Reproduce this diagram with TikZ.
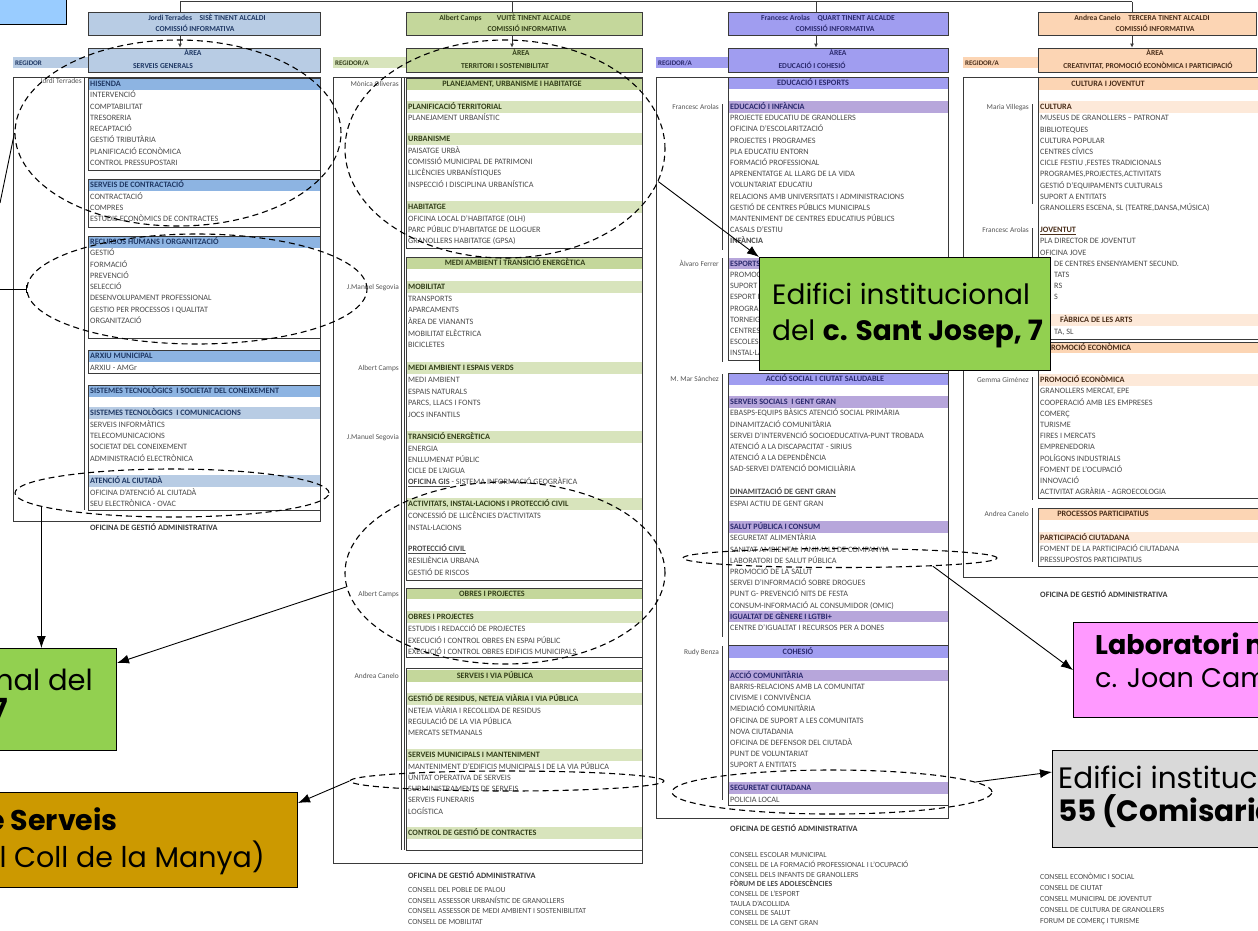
\documentclass[tikz,border=0pt]{standalone}
\usepackage{fontspec}
\setmainfont{Carlito}
\newfontfamily\popf{Poppins}
\usetikzlibrary{arrows.meta,shapes.geometric}
\newcounter{tn}
\definecolor{c1h}{HTML}{B8CCE4}
\definecolor{c1s}{HTML}{8DB4E2}
\definecolor{c1l}{HTML}{B8CCE4}
\definecolor{c1t}{HTML}{1F3864}
\definecolor{c2h}{HTML}{C4D79B}
\definecolor{c2l}{HTML}{D8E4BC}
\definecolor{c2t}{HTML}{333F1A}
\definecolor{c3h}{HTML}{A09DF0}
\definecolor{c3l}{HTML}{B7A6DB}
\definecolor{c3t}{HTML}{2B2A6E}
\definecolor{c4h}{HTML}{FCD5B4}
\definecolor{c4l}{HTML}{FDE9D9}
\definecolor{c4t}{HTML}{4A2E1A}
\definecolor{itemc}{HTML}{4A4A4A}
\definecolor{namec}{HTML}{555555}
\definecolor{boxc}{HTML}{3A3A3A}
\definecolor{bluebox}{HTML}{99CCFF}
\definecolor{greenc}{HTML}{92D050}
\definecolor{brownc}{HTML}{CC9900}
\definecolor{pinkc}{HTML}{FF99FF}
\definecolor{greyc}{HTML}{D9D9D9}
\newcommand\xitm{\fontsize{8.2}{9}\selectfont}
\newcommand\xcon{\fontsize{7.8}{9}\selectfont}
\newcommand\xbld{\fontsize{8.2}{9}\selectfont\bfseries}
\newcommand\xnam{\fontsize{7.4}{9}\selectfont}
\newcommand\xhdr{\fontsize{7.6}{9}\selectfont\bfseries}
\newcommand\xstrip{\fontsize{7}{8}\selectfont\bfseries}
\newcommand\xcall{\popf\fontsize{27}{33}\selectfont}
\newcommand\It[3]{\stepcounter{tn}\node[itm] (n\arabic{tn}) at (#1,{#2+2.7}) {#3};}
\newcommand\Bt[4]{\stepcounter{tn}\node[bld,text=#1] (n\arabic{tn}) at (#2,{#3+2.7}) {#4};}
\newcommand\Bc[4]{\stepcounter{tn}\node[bldc,text=#1] (n\arabic{tn}) at (#2,{#3+2.7}) {#4};}
\newcommand\Nm[3]{\stepcounter{tn}\node[nam] (n\arabic{tn}) at (#1,{#2+2.5}) {#3};}
\newcommand\Items[4]{\foreach \ti [count=\k from 0] in {#4}{\stepcounter{tn}\node[itm] (n\arabic{tn}) at (#1,{#2+#3*\k+2.7}) {\ti};}}
\newcommand\CItems[4]{\foreach \ti [count=\k from 0] in {#4}{\stepcounter{tn}\node[itm,font=\xcon] (n\arabic{tn}) at (#1,{#2+#3*\k+2.7}) {\ti};}}
\newcommand\Rf[4]{\fill[#1] (#2,{#4-5.8}) rectangle (#3,{#4+5.8});}
\begin{document}
\begin{tikzpicture}[x=1pt,y=-1pt,
  itm/.style={anchor=base west,inner sep=0pt,font=\xitm,text=itemc},
  bld/.style={anchor=base west,inner sep=0pt,font=\xbld},
  bldc/.style={anchor=base,inner sep=0pt,font=\xbld},
  nam/.style={anchor=base east,inner sep=0pt,font=\xnam,text=namec},
  htx/.style={anchor=base,inner sep=0pt,font=\xhdr},
  stp/.style={anchor=base west,inner sep=0pt,font=\xstrip},
  hbox/.style={draw=boxc,line width=0.8pt,inner sep=0pt},
  sbox/.style={draw=boxc,line width=0.9pt},
  outer/.style={draw=boxc,line width=0.7pt},
  thinl/.style={draw=boxc,line width=0.6pt},
  ell/.style={ellipse,draw=black,dash pattern=on 6pt off 4pt,line width=1.1pt,inner sep=0pt},
  con/.style={draw=black,line width=0.9pt,-{Latex[length=12pt,width=9pt]}},
  call/.style={draw=black,line width=1.2pt,inner sep=0pt},
  ctx/.style={inner sep=0pt,font=\xcall},
]
\useasboundingbox (0,0) rectangle (1258,930);
\fill[white] (0,0) rectangle (1258,930);

% ---------- top-left box and tree
\node[draw=black,line width=1.2pt,fill=bluebox,minimum width=80pt,minimum height=40pt,anchor=south east] (bb) at (67,25) {};
\node[hbox,fill=c1h,minimum width=232pt,minimum height=23pt] (h1) at (204,23.5) {};
\node[hbox,fill=c1h,minimum width=232pt,minimum height=24pt] (a1) at (204,60) {};
\node[hbox,fill=c2h,minimum width=236pt,minimum height=23pt] (h2) at (524,23.5) {};
\node[hbox,fill=c2h,minimum width=236pt,minimum height=24pt] (a2) at (524,60) {};
\node[hbox,fill=c3h,minimum width=220pt,minimum height=23pt] (h3) at (838,23.5) {};
\node[hbox,fill=c3h,minimum width=220pt,minimum height=24pt] (a3) at (838,60) {};
\node[hbox,fill=c4h,minimum width=218pt,minimum height=23pt] (h4) at (1147,23.5) {};
\node[hbox,fill=c4h,minimum width=218pt,minimum height=24pt] (a4) at (1147,60) {};
\coordinate (t1) at (180,1.5);
\coordinate (t2) at (512,1.5);
\coordinate (t3) at (816,1.5);
\coordinate (t4) at (1132,1.5);
\draw[boxc,line width=1.6pt] (t1) -- (t4);
\foreach \k in {1,...,4}{
  \draw[boxc,line width=1pt] (t\k) -- (t\k |- h\k.north);
  \draw[boxc,line width=0.8pt,-{Latex[length=4pt,width=4pt]}] (t\k |- h\k.south) -- (t\k |- a\k.north);
}
\node[htx,text=c1t] (h1a) at (207,20.5) {Jordi Terrades\quad SISÈ TINENT ALCALDI};
\node[htx,text=c1t] (h1b) at (195,31.5) {COMISSIÓ INFORMATIVA};
\node[htx,text=c1t] (a1a) at (193,55.5) {ÀREA};
\node[htx,text=c1t] (a1b) at (163,68.5) {SERVEIS GENERALS};
\node[htx,text=c2t] (h2a) at (505,20.5) {Albert Camps\qquad VUITÈ TINENT ALCALDE};
\node[htx,text=c2t] (h2b) at (527,31.5) {COMISSIÓ INFORMATIVA};
\node[htx,text=c2t] (a2a) at (521,55.5) {ÀREA};
\node[htx,text=c2t] (a2b) at (505,68.5) {TERRITORI I SOSTENIBILITAT};
\node[htx,text=c3t] (h3a) at (828,20.5) {Francesc Arolas\quad QUART TINENT ALCALDE};
\node[htx,text=c3t] (h3b) at (835,31.5) {COMISSIÓ INFORMATIVA};
\node[htx,text=c3t] (a3a) at (838,55.5) {ÀREA};
\node[htx,text=c3t] (a3b) at (812,68.5) {EDUCACIÓ I COHESIÓ};
\node[htx,text=c4t] (h4a) at (1142,20.5) {Andrea Canelo\quad TERCERA TINENT ALCALDI};
\node[htx,text=c4t] (h4b) at (1155,31.5) {COMISSIÓ INFORMATIVA};
\node[htx,text=c4t] (a4a) at (1155,55.5) {ÀREA};
\node[htx,text=c4t] (a4b) at (1148,68.5) {CREATIVITAT, PROMOCIÓ ECONÒMICA I PARTICIPACIÓ};

% ================= COLUMN 1
\fill[c1h] (13,57) rectangle (88,68);
\node[stp,text=c1t] (rg1) at (15,65) {REGIDOR};
\draw[outer] (13,77) rectangle (320,521);
\draw[thinl] (84,78) -- (84,510);
\Nm{82}{81}{Jordi Terrades}
\Rf{c1s}{88}{320}{84}
\draw[sbox] (88,78) rectangle (320,170);
\Bt{c1t}{90}{84}{HISENDA}
\Items{90}{95}{11.3}{INTERVENCIÓ,COMPTABILITAT,TRESORERIA,RECAPTACIÓ,GESTIÓ TRIBUTÀRIA,PLANIFICACIÓ ECONÒMICA,CONTROL PRESSUPOSTARI}
\Rf{c1s}{88}{320}{185}
\draw[sbox] (88,179) rectangle (320,227);
\Bt{c1t}{90}{185}{SERVEIS DE CONTRACTACIÓ}
\Items{90}{196.5}{11.3}{CONTRACTACIÓ,COMPRES,ESTUDIS ECONÒMICS DE CONTRACTES}
\Rf{c1s}{88}{320}{242}
\draw[sbox] (88,236) rectangle (320,338);
\Bt{c1t}{90}{242}{RECURSOS HUMANS I ORGANITZACIÓ}
\Items{90}{253}{11.3}{GESTIÓ,FORMACIÓ,PREVENCIÓ,SELECCIÓ,DESENVOLUPAMENT PROFESSIONAL,GESTIO PER PROCESSOS I QUALITAT,ORGANITZACIÓ}
\Rf{c1s}{88}{320}{356}
\draw[sbox] (88,350) rectangle (320,373);
\Bt{c1t}{90}{356}{ARXIU MUNICIPAL}
\It{90}{367.5}{ARXIU - AMGr}
\Rf{c1s}{88}{320}{391}
\Rf{c1l}{88}{320}{413}
\Rf{c1l}{88}{320}{481}
\draw[sbox] (88,385) rectangle (320,510);
\Bt{c1t}{90}{391}{SISTEMES TECNOLÒGICS\ \ I SOCIETAT DEL CONEIXEMENT}
\Bt{c1t}{90}{413}{SISTEMES TECNOLÒGICS\ \ I COMUNICACIONS}
\Items{90}{424.5}{11.3}{SERVEIS INFORMÀTICS,TELECOMUNICACIONS,SOCIETAT DEL CONEIXEMENT,ADMINISTRACIÓ ELECTRÒNICA}
\Bt{c1t}{90}{481}{ATENCIÓ AL CIUTADÀ}
\Items{90}{492.5}{11.3}{OFICINA D'ATENCIÓ AL CIUTADÀ,SEU ELECTRÒNICA - OVAC}
\Bt{boxc}{90}{528}{OFICINA DE GESTIÓ ADMINISTRATIVA}

% ================= COLUMN 2
\fill[c2l] (333,57) rectangle (406,68);
\node[stp,text=c2t] (rg2) at (335,65) {REGIDOR/A};
\draw[outer] (333,77) rectangle (642,863);
\draw[thinl] (401,78) -- (401,850);
\draw[thinl] (404,78) -- (404,850);
\Rf{c2h}{406}{642}{84}
\Rf{c2l}{406}{642}{107}
\Rf{c2l}{406}{642}{139}
\Rf{c2l}{406}{642}{207}
\draw[sbox] (406,78) rectangle (642,248);
\Bc{c2t}{512}{84}{PLANEJAMENT, URBANISME I HABITATGE}
\Nm{399}{84}{Mònica Oliveras}
\Bt{c2t}{408}{107}{PLANIFICACIÓ TERRITORIAL}
\It{408}{118}{PLANEJAMENT URBANÍSTIC}
\Bt{c2t}{408}{139}{URBANISME}
\Items{408}{150.5}{11.3}{PAISATGE URBÀ,COMISSIÓ MUNICIPAL DE PATRIMONI,LLICÈNCIES URBANÍSTIQUES,INSPECCIÓ I DISCIPLINA URBANÍSTICA}
\Bt{c2t}{408}{207}{HABITATGE}
\Items{408}{218.5}{11.3}{OFICINA LOCAL D'HABITATGE (OLH),PARC PÚBLIC D'HABITATGE DE LLOGUER,GRANOLLERS HABITATGE (GPSA)}
\Rf{c2h}{406}{642}{263}
\Rf{c2l}{406}{642}{287}
\Rf{c2l}{406}{642}{368}
\Rf{c2l}{406}{642}{437}
\Rf{c2l}{406}{642}{504}
\draw[sbox] (406,257) rectangle (642,580);
\Bc{c2t}{515}{263}{MEDI AMBIENT I TRANSICIÓ ENERGÈTICA}
\Nm{399}{287}{J.Manuel Segovia}
\Bt{c2t}{408}{287}{MOBILITAT}
\Items{408}{298.6}{11.6}{TRANSPORTS,APARCAMENTS,ÀREA DE VIANANTS,MOBILITAT ELÈCTRICA,BICICLETES}
\Nm{399}{368}{Albert Camps}
\Bt{c2t}{408}{368}{MEDI AMBIENT I ESPAIS VERDS}
\Items{408}{380}{11.5}{MEDI AMBIENT,ESPAIS NATURALS,{PARCS, LLACS I FONTS},JOCS INFANTILS}
\Nm{399}{437}{J.Manuel Segovia}
\Bt{c2t}{408}{437}{TRANSICIÓ ENERGÈTICA}
\Items{408}{448.5}{11.2}{ENERGIA,ENLLUMENAT PÚBLIC,CICLE DE L'AIGUA}
\It{408}{482}{{\bfseries\underline{OFICINA GIS}} - SISTEMA INFORMACIÓ GEOGRÀFICA}
\Bt{c2t}{408}{504}{ACTIVITATS, INSTAL·LACIONS I PROTECCIÓ CIVIL}
\Items{408}{516}{11.5}{CONCESSIÓ DE LLICÈNCIES D'ACTIVITATS,INSTAL·LACIONS}
\Bt{itemc}{408}{549}{\underline{PROTECCIÓ CIVIL}}
\Items{408}{561}{11.5}{RESILIÈNCIA URBANA,GESTIÓ DE RISCOS}
\Rf{c2h}{406}{642}{593.5}
\Rf{c2l}{406}{642}{617}
\draw[sbox] (406,588) rectangle (642,657);
\Bc{c2t}{492}{593.5}{OBRES I PROJECTES}
\Nm{399}{593.5}{Albert Camps}
\Bt{c2t}{408}{617}{OBRES I PROJECTES}
\Items{408}{629}{11.5}{ESTUDIS I REDACCIÓ DE PROJECTES,EXECUCIÓ I CONTROL OBRES EN ESPAI PÚBLIC,EXECUCIÓ I CONTROL OBRES EDIFICIS MUNICIPALS}
\Rf{c2h}{406}{642}{676}
\Rf{c2l}{406}{642}{699}
\Rf{c2l}{406}{642}{755}
\Rf{c2l}{406}{642}{833}
\draw[sbox] (406,668) rectangle (642,850);
\Bc{c2t}{495}{676}{SERVEIS I VIA PÚBLICA}
\Nm{399}{676}{Andrea Canelo}
\Bt{c2t}{408}{699}{GESTIÓ DE RESIDUS, NETEJA VIÀRIA I VIA PÚBLICA}
\Items{408}{710.5}{11}{NETEJA VIÀRIA I RECOLLIDA DE RESIDUS,REGULACIÓ DE LA VIA PÚBLICA,MERCATS SETMANALS}
\Bt{c2t}{408}{755}{SERVEIS MUNICIPALS I MANTENIMENT}
\Items{408}{766.5}{11.2}{MANTENIMENT D'EDIFICIS MUNICIPALS I DE LA VIA PÚBLICA,UNITAT OPERATIVA DE SERVEIS,SUBMINISTRAMENTS DE SERVEIS,SERVEIS FUNERARIS,LOGÍSTICA}
\Bt{c2t}{408}{833}{CONTROL DE GESTIÓ DE CONTRACTES}
\Bt{boxc}{408}{876}{OFICINA DE GESTIÓ ADMINISTRATIVA}
\CItems{408}{890}{10.5}{CONSELL DEL POBLE DE PALOU,CONSELL ASSESSOR URBANÍSTIC DE GRANOLLERS,CONSELL ASSESSOR DE MEDI AMBIENT I SOSTENIBILITAT,CONSELL DE MOBILITAT}

% ================= COLUMN 3
\fill[c3h] (656,57) rectangle (728,68);
\node[stp,text=c3t] (rg3) at (658,65) {REGIDOR/A};
\draw[outer] (656,77) rectangle (948,818);
\draw[thinl] (722,104) -- (722,250);
\draw[thinl] (722,258) -- (722,362);
\draw[thinl] (722,374) -- (722,637);
\draw[thinl] (722,646) -- (722,800);
\Rf{c3h}{728}{948}{83}
\Rf{c3l}{728}{948}{107}
\Rf{c3l}{728}{948}{263.5}
\draw[sbox] (728,77) rectangle (948,360);
\Bc{c3t}{813}{83}{EDUCACIÓ I ESPORTS}
\Nm{719}{107}{Francesc Arolas}
\Bt{c3t}{730}{107}{EDUCACIÓ I INFÀNCIA}
\Items{730}{118}{11.2}{PROJECTE EDUCATIU DE GRANOLLERS,OFICINA D'ESCOLARITZACIÓ,PROJECTES I PROGRAMES,PLA EDUCATIU ENTORN,FORMACIÓ PROFESSIONAL,APRENENTATGE AL LLARG DE LA VIDA,VOLUNTARIAT EDUCATIU,RELACIONS AMB UNIVERSITATS I ADMINISTRACIONS,GESTIÓ DE CENTRES PÚBLICS MUNICIPALS,MANTENIMENT DE CENTRES EDUCATIUS PÚBLICS,CASALS D'ESTIU}
\Bt{itemc}{730}{241.2}{INFÀNCIA}
\Nm{719}{263.5}{Àlvaro Ferrer}
\Bt{c3t}{730}{263.5}{ESPORTS}
\Items{730}{274.7}{11.2}{PROMOCIÓ ESPORTIVA,SUPORT A ENTITATS ESPORTIVES,ESPORT ESCOLAR,PROGRAMES ESPORTIUS,TORNEIGS,CENTRES ESPORTIUS,ESCOLES ESPORTIVES,INSTAL·LACIONS ESPORTIVES}
\Rf{c3h}{728}{948}{379}
\Rf{c3l}{728}{948}{402}
\Rf{c3l}{728}{948}{527}
\Rf{c3l}{728}{948}{616.6}
\Rf{c3h}{728}{948}{652}
\Rf{c3l}{728}{948}{675.5}
\Rf{c3l}{728}{948}{788}
\draw[sbox] (728,373) rectangle (948,805);
\draw[sbox] (728,645.5) -- (948,645.5);
\Bc{c3t}{825}{379}{ACCIÓ SOCIAL I CIUTAT SALUDABLE}
\Nm{719}{379}{M. Mar Sánchez}
\Bt{c3t}{730}{402}{SERVEIS SOCIALS\ \ I GENT GRAN}
\Items{730}{413.2}{11.2}{EBASPS-EQUIPS BÀSICS ATENCIÓ SOCIAL PRIMÀRIA,DINAMITZACIÓ COMUNITÀRIA,SERVEI D'INTERVENCIÓ SOCIOEDUCATIVA-PUNT TROBADA,ATENCIÓ A LA DISCAPACITAT - SIRIUS,ATENCIÓ A LA DEPENDÈNCIA,SAD-SERVEI D'ATENCIÓ DOMICILIÀRIA}
\Bt{itemc}{730}{492}{\underline{DINAMITZACIÓ DE GENT GRAN}}
\It{730}{503.5}{ESPAI ACTIU DE GENT GRAN}
\Bt{c3t}{730}{527}{SALUT PÚBLICA I CONSUM}
\Items{730}{538.2}{11.2}{SEGURETAT ALIMENTÀRIA,SANITAT AMBIENTAL I ANIMALS DE COMPANYIA,LABORATORI DE SALUT PÚBLICA,PROMOCIÓ DE LA SALUT,SERVEI D'INFORMACIÓ SOBRE DROGUES,PUNT G- PREVENCIÓ NITS DE FESTA,CONSUM-INFORMACIÓ AL CONSUMIDOR (OMIC)}
\Bt{c3t}{730}{616.6}{IGUALTAT DE GÈNERE I LGTBI+}
\It{730}{627.8}{CENTRE D'IGUALTAT I RECURSOS PER A DONES}
\Bc{c3t}{798}{652}{COHESIÓ}
\Nm{719}{652}{Rudy Benza}
\Bt{c3t}{730}{675.5}{ACCIÓ COMUNITÀRIA}
\Items{730}{686.7}{11.2}{BARRIS-RELACIONS AMB LA COMUNITAT,CIVISME I CONVIVÈNCIA,MEDIACIÓ COMUNITÀRIA,OFICINA DE SUPORT A LES COMUNITATS,NOVA CIUTADANIA,OFICINA DE DEFENSOR DEL CIUTADÀ,PUNT DE VOLUNTARIAT,SUPORT A ENTITATS}
\Bt{c3t}{730}{788}{SEGURETAT CIUTADANA}
\It{730}{799.5}{POLICIA LOCAL}
\Bt{boxc}{730}{829}{OFICINA DE GESTIÓ ADMINISTRATIVA}
\CItems{730}{855}{9.7}{CONSELL ESCOLAR MUNICIPAL,CONSELL DE LA FORMACIÓ PROFESSIONAL I L'OCUPACIÓ,CONSELL DELS INFANTS DE GRANOLLERS,{\bfseries FÒRUM DE LES ADOLESCÈNCIES},CONSELL DE L'ESPORT,TAULA D'ACOLLIDA,CONSELL DE SALUT,CONSELL DE LA GENT GRAN}

% ================= COLUMN 4
\fill[c4h] (963,57) rectangle (1038,68);
\node[stp,text=c4t] (rg4) at (965,65) {REGIDOR/A};
\draw[outer] (1262,77) -- (963,77) -- (963,577) -- (1262,577);
\draw[thinl] (1032,104) -- (1032,204);
\draw[thinl] (1032,228) -- (1032,336);
\draw[thinl] (1032,377) -- (1032,500);
\draw[thinl] (1032,508) -- (1032,562);
\Rf{c4h}{1038}{1262}{84}
\Rf{c4l}{1038}{1262}{107}
\Rf{c4l}{1038}{1262}{320}
\draw[sbox] (1262,77) -- (1038,77) -- (1038,339) -- (1262,339);
\Bc{c4t}{1108}{84}{CULTURA I JOVENTUT}
\Nm{1029}{107}{Maria Villegas}
\Bt{c4t}{1040}{107}{CULTURA}
\Items{1040}{118.2}{11.2}{MUSEUS DE GRANOLLERS -- PATRONAT,BIBLIOTEQUES,CULTURA POPULAR,CENTRES CÍVICS,{CICLE FESTIU ,FESTES TRADICIONALS},{PROGRAMES,PROJECTES,ACTIVITATS},GESTIÓ D'EQUIPAMENTS CULTURALS,SUPORT A ENTITATS,{GRANOLLERS ESCENA, SL (TEATRE,DANSA,MÚSICA)}}
\Nm{1029}{230}{Francesc Arolas}
\Bt{c4t}{1040}{230}{\underline{JOVENTUT}}
\Items{1040}{241.2}{11.2}{PLA DIRECTOR DE JOVENTUT,OFICINA JOVE}
\Items{1054}{263.6}{11.2}{DE CENTRES ENSENYAMENT SECUND.,TATS,RS,S}
\Bt{c4t}{1060}{320}{FÀBRICA DE LES ARTS}
\It{1054}{331.5}{TA, SL}
\Rf{c4h}{1038}{1262}{347.5}
\Rf{c4l}{1038}{1262}{380}
\draw[sbox] (1262,342) -- (1038,342) -- (1038,498) -- (1262,498);
\Bc{c4t}{1089}{347.5}{PROMOCIÓ ECONÒMICA}
\Nm{1029}{380}{Gemma Giménez}
\Bt{c4t}{1040}{380}{PROMOCIÓ ECONÒMICA}
\Items{1040}{391.2}{11.2}{{GRANOLLERS MERCAT, EPE},COOPERACIÓ AMB LES EMPRESES,COMERÇ,TURISME,FIRES I MERCATS,EMPRENEDORIA,POLÍGONS INDUSTRIALS,FOMENT DE L'OCUPACIÓ,INNOVACIÓ,ACTIVITAT AGRÀRIA - AGROECOLOGIA}
\Rf{c4h}{1038}{1262}{514}
\Rf{c4l}{1038}{1262}{537.5}
\draw[sbox] (1262,508) -- (1038,508) -- (1038,566) -- (1262,566);
\Bc{c4t}{1103}{514}{PROCESSOS PARTICIPATIUS}
\Nm{1029}{514}{Andrea Canelo}
\Bt{c4t}{1040}{537.5}{PARTICIPACIÓ CIUTADANA}
\Items{1040}{548.7}{11.2}{FOMENT DE LA PARTICIPACIÓ CIUTADANA,PRESSUPOSTOS PARTICIPATIUS}
\Bt{boxc}{1040}{595}{OFICINA DE GESTIÓ ADMINISTRATIVA}
\CItems{1040}{877}{11}{CONSELL ECONÒMIC I SOCIAL,CONSELL DE CIUTAT,CONSELL MUNICIPAL DE JOVENTUT,CONSELL DE CULTURA DE GRANOLLERS,FORUM DE COMERÇ I TURISME}

% ================= dashed ellipses
\node[ell,minimum width=326pt,minimum height=186pt] (e1) at (178,133) {};
\node[ell,minimum width=340pt,minimum height=110pt] (e2) at (197,289) {};
\node[ell,minimum width=314pt,minimum height=48pt] (e3) at (172,493) {};
\node[ell,minimum width=320pt,minimum height=218pt] (e4) at (505,149) {};
\node[ell,minimum width=320pt,minimum height=182pt] (e5) at (505,573) {};
\node[ell,minimum width=314pt,minimum height=20pt] (e6) at (507,781) {};
\node[ell,minimum width=314pt,minimum height=19pt] (e8) at (840,558) {};
\node[ell,minimum width=320pt,minimum height=44pt] (e9) at (832,792) {};

% ================= callouts
\node[call,fill=greenc,minimum width=291pt,minimum height=113pt,anchor=north west] (gc) at (759,257) {};
\node[ctx,anchor=base west,font=\popf\fontsize{28}{34}\selectfont] (gc1) at (772,304) {Edifici institucional};
\node[ctx,anchor=base west,font=\popf\fontsize{28}{34}\selectfont] (gc2) at (772,340) {del \textbf{c. Sant Josep, 7}};
\node[call,fill=greenc,minimum width=360pt,minimum height=102pt,anchor=north east] (gl) at (117,648) {};
\node[ctx,anchor=base east,font=\popf\fontsize{29}{33}\selectfont] (gl1) at (93,690) {Edifici institucional del};
\node[ctx,anchor=base east,font=\popf\fontsize{29}{33}\selectfont] (gl2) at (8,719) {\textbf{c. Sant Josep, 7}};
\node[call,fill=brownc,minimum width=560pt,minimum height=95pt,anchor=north east] (gb) at (298,792) {};
\node[ctx,anchor=base east,font=\popf\fontsize{28.5}{33}\selectfont] (gb1) at (118,830) {\textbf{Magatzem de Serveis}};
\node[ctx,anchor=base east,font=\popf\fontsize{28.5}{33}\selectfont] (gb2) at (265,867) {(Camí del Coll de la Manya)};
\node[call,fill=pinkc,minimum width=220pt,minimum height=95pt,anchor=north west] (lab) at (1073,622) {};
\node[ctx,anchor=base west] (lab1) at (1095,654) {\textbf{Laboratori municipal}};
\node[ctx,anchor=base west] (lab2) at (1095,687) {c. Joan Camps};
\node[call,fill=greyc,minimum width=240pt,minimum height=97pt,anchor=north west] (gr) at (1052,750) {};
\node[ctx,anchor=base west,font=\popf\fontsize{29.5}{33}\selectfont] (gr1) at (1058,788) {Edifici institucional};
\node[ctx,anchor=base west,font=\popf\fontsize{29.5}{33}\selectfont] (gr2) at (1058,821) {\textbf{55 (Comisaria)}};

% ================= connectors
\coordinate (l1) at (0,203);
\coordinate (l2) at (0,289);
\draw[black,line width=0.9pt] (l1) -- (e1.west);
\draw[black,line width=0.9pt,-{Bar[width=8pt]}] (l2) -- (e2.west);
\draw[con] (e3.186) -- (e3.186 |- gl.north);
\draw[con] (e5.185) -- ([yshift=-15pt]gl.north east);
\draw[con] (e6.west) -- ([yshift=-11pt]gb.north east);
\draw[con] (e4.-12) -- (gc.north west);
\draw[con] (e8.-5) -- (lab.west);
\draw[con] (e9.4) -- ([yshift=-22pt]gr.north west);
\end{tikzpicture}
\end{document}
